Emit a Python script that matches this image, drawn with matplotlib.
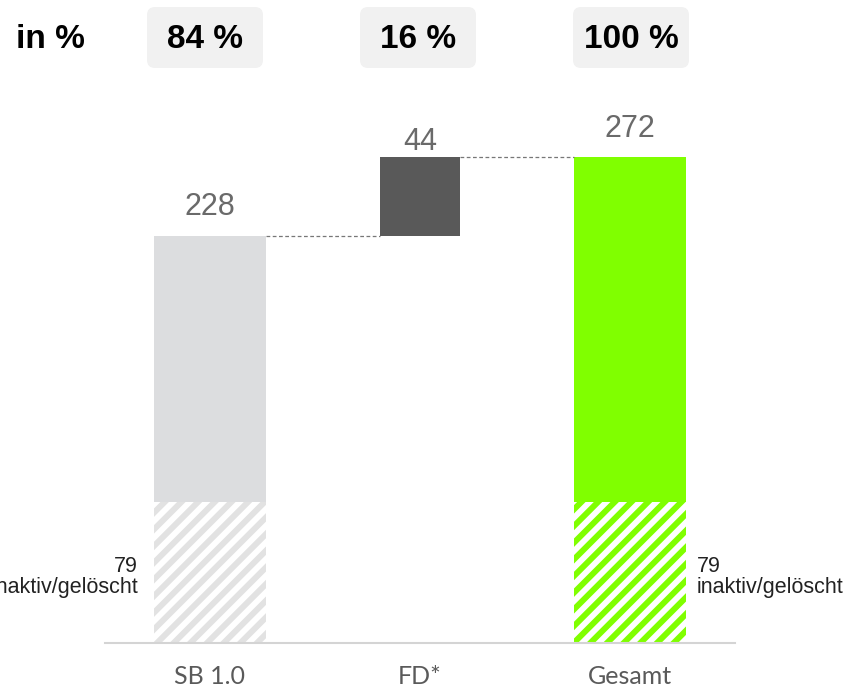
import matplotlib
matplotlib.use("Agg")
import matplotlib.pyplot as plt
from matplotlib.patches import FancyBboxPatch

# Daten
kategorien = ['SB 1.0', 'FD*', 'Gesamt']
werte = [228, 44, 272]
basis = [0, 228, 0]
inaktiv = [79, 0, 79]
prozent = ['84 %', '16 %', '100 %']

plt.rcParams['hatch.linewidth'] = 4.3

fig = plt.figure(figsize=(8.54, 6.97), dpi=100)
ax = fig.add_axes([105 / 854, 54 / 697, 630 / 854, 553 / 697])

x = [0, 1, 2]
breiten = [0.53, 0.38, 0.53]
farben = ['#dcdddf', '#595959', '#80ff00']
schraffur = ['#e2e2e2', None, '#80ff00']

# aktive Anteile
for i in range(3):
    unten = basis[i] + inaktiv[i]
    ax.bar(x[i], werte[i] - inaktiv[i], bottom=unten, width=breiten[i],
           color=farben[i], linewidth=0)
    if inaktiv[i] > 0:
        # schraffierter Anteil inaktiv/gelöscht
        ax.bar(x[i], inaktiv[i], bottom=basis[i], width=breiten[i],
               facecolor='white', edgecolor=schraffur[i], hatch='//', linewidth=0)

# Wertelabels
for i in range(3):
    off = [15, 5, 14.5][i]
    ax.annotate(str(werte[i]), (x[i], basis[i] + werte[i]), xytext=(0, off),
                textcoords='offset points', ha='center', va='baseline',
                fontsize=22, color='#6a6a6a', family='Liberation Sans')

# Verbindungslinien
ax.plot([x[0] + breiten[0] / 2, x[1] - breiten[1] / 2], [werte[0], werte[0]],
        ls=(0, (3, 2)), color='#777777', lw=0.9)
ax.plot([x[1] + breiten[1] / 2, x[2] - breiten[2] / 2], [werte[2], werte[2]],
        ls=(0, (3, 2)), color='#777777', lw=0.9)

ax.set_xlim(-0.5, 2.5)
ax.set_ylim(0, 309.5)
for s in ['top', 'right', 'left']:
    ax.spines[s].set_visible(False)
ax.spines['bottom'].set_color('#d4d4d4')
ax.spines['bottom'].set_linewidth(1.5)
ax.set_yticks([])
ax.set_xticks(x)
ax.set_xticklabels(kategorien, fontsize=18, color='#5a5a5a', family='Lato')
ax.tick_params(axis='x', length=0, pad=16)

# inaktiv/gelöscht
fig.text(138 / 854, 1 - 577 / 697, '79\ninaktiv/gelöscht', ha='right', va='center',
         fontsize=15.5, color='#222222', family='Liberation Sans', linespacing=1.05)
fig.text(697 / 854, 1 - 577 / 697, '79\ninaktiv/gelöscht', ha='left', va='center',
         fontsize=15.5, color='#222222', family='Liberation Sans', linespacing=1.05)

# Prozentboxen oben
box_x = [147, 360, 573]
for i in range(3):
    box = FancyBboxPatch((box_x[i] / 100 + 0.08, 6.29 + 0.08), 1.16 - 0.16, 0.61 - 0.16,
                         boxstyle='round,pad=0.08', transform=fig.dpi_scale_trans,
                         facecolor='#f1f1f1', edgecolor='none')
    fig.patches.append(box)
    fig.text((box_x[i] + 58) / 854, 1 - 40 / 697, prozent[i], ha='center', va='center',
             fontsize=24, fontweight='bold', family='Liberation Sans')
fig.text(50 / 854, 1 - 40 / 697, 'in %', ha='center', va='center',
         fontsize=24, fontweight='bold', family='Liberation Sans')

fig.savefig('out.png', dpi=100)
